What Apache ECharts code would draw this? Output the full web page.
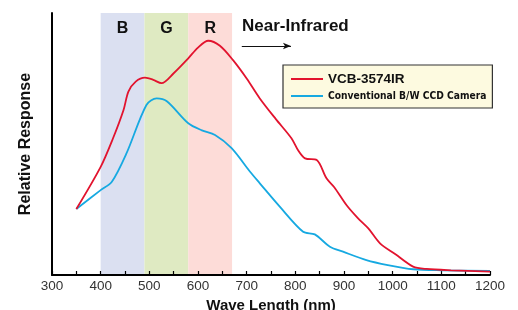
<!DOCTYPE html>
<html><head><meta charset="utf-8">
<script src="https://cdn.jsdelivr.net/npm/echarts@6/dist/echarts.min.js"></script>
<style>html,body{margin:0;padding:0;background:#fff}#c{width:518px;height:310px}</style>
</head><body><div id="c"></div>
<script>
var seriesNames = ['VCB-3574IR', 'Conventional B/W CCD Camera'];
var vcbData = [[350,25.2],[400,41.3],[425,52],[447,63],[457,70],[472,73.8],[491,75.3],[508,74.5],[525,73.2],[550,77],[580,82.7],[600,86.8],[621,89.4],[645,87.5],[672,82],[700,75],[727,67.4],[760,59.5],[792,52.2],[806,47.5],[820,44.5],[844,43.9],[864,36.9],[880,33.5],[905,26.7],[928,21.8],[950,17.8],[974,12.1],[1005,8],[1042,3.2],[1070,2.3],[1120,1.8],[1200,1.3]];
var ccdData = [[350,25.2],[400,32.4],[423,35.6],[453,46.4],[494,64.9],[515,67.4],[536,66.3],[580,57.9],[608,55.2],[635,53.4],[669,48.4],[707,39.4],[727,35],[768,26.1],[816,16.5],[840,15.5],[871,10.8],[898,8.9],[946,5.7],[990,3.8],[1042,2.2],[1100,1.8],[1200,1.6]];
var bands = [['B',400,490,'#dbe0f1'],['G',490,580,'#dfeac2'],['R',580,670,'#fddcd8']];
var xTicks = {min:300, max:1200, step:50, labelStep:100};
var arrowRange = [690, 791];

var chart = echarts.init(document.getElementById('c'), null, {renderer:'canvas'});
var font = 'Liberation Sans, Arial, sans-serif';
var narrow = 'DejaVu Sans Condensed, Liberation Sans Narrow, sans-serif';
chart.setOption({
  animation:false,
  grid:{left:52, right:28, top:13, bottom:35, containLabel:false, outerBoundsMode:'none'},
  xAxis:{type:'value', min:xTicks.min, max:xTicks.max, interval:xTicks.step,
    name:'Wave Length (nm)', nameLocation:'middle', nameGap:23,
    nameTextStyle:{fontFamily:font, fontWeight:'bold', fontSize:15, color:'#111'},
    axisLine:{lineStyle:{color:'#000', width:2}},
    axisTick:{inside:true, length:4, lineStyle:{color:'#000', width:1.2}},
    axisLabel:{fontFamily:font, fontSize:13.5, color:'#333', margin:4,
      formatter:function(v){return v % xTicks.labelStep===0 ? String(v) : '';}},
    splitLine:{show:false}},
  yAxis:{type:'value', min:0, max:100,
    name:'Relative Response', nameLocation:'middle', nameGap:18,
    nameTextStyle:{fontFamily:font, fontWeight:'bold', fontSize:16, color:'#111'},
    axisLine:{show:true, lineStyle:{color:'#000', width:2}},
    axisTick:{show:false}, axisLabel:{show:false}, splitLine:{show:false}},
  legend:{left:283, top:65, orient:'vertical', backgroundColor:'#fdfae0',
    borderColor:'#333', borderWidth:1.2, borderRadius:0, padding:[7,6,7,8], itemGap:5,
    itemWidth:32, itemHeight:14, icon:'path://M0,6 L32,6 L32,8 L0,8 Z',
    data:[
      {name:seriesNames[0], textStyle:{fontFamily:font, fontWeight:'bold', fontSize:13.5, color:'#111'}},
      {name:seriesNames[1], textStyle:{fontFamily:narrow, fontWeight:'bold', fontSize:10.2, color:'#111'}}
    ]},
  graphic:[{type:'text', left:242, top:18, style:{text:'Near-Infrared', font:'bold 17px '+font, fill:'#111'}}],
  series:[
    {name:seriesNames[0], type:'line', data:vcbData, smooth:0.3, symbol:'none', z:3,
      lineStyle:{color:'#e2132e', width:1.8}, itemStyle:{color:'#e2132e'},
      markArea:{silent:true, z:-1, data:bands.map(function(b){return [
        {name:b[0], xAxis:b[1], yAxis:0, itemStyle:{color:b[3]}},
        {xAxis:b[2], yAxis:100}];}),
        label:{show:true, position:'insideTop', distance:8, fontFamily:font, fontWeight:'bold', fontSize:16, color:'#111'}},
      markLine:{silent:true, symbol:['none','arrow'], symbolSize:[5,8],
        lineStyle:{color:'#111', width:1.2, type:'solid'}, label:{show:false},
        data:[[{coord:[arrowRange[0],87.4]},{coord:[arrowRange[1],87.4]}]]}},
    {name:seriesNames[1], type:'line', data:ccdData, smooth:0.3, symbol:'none', z:2,
      lineStyle:{color:'#16a9e1', width:1.8}, itemStyle:{color:'#16a9e1'}}
  ]
});
</script></body></html>
